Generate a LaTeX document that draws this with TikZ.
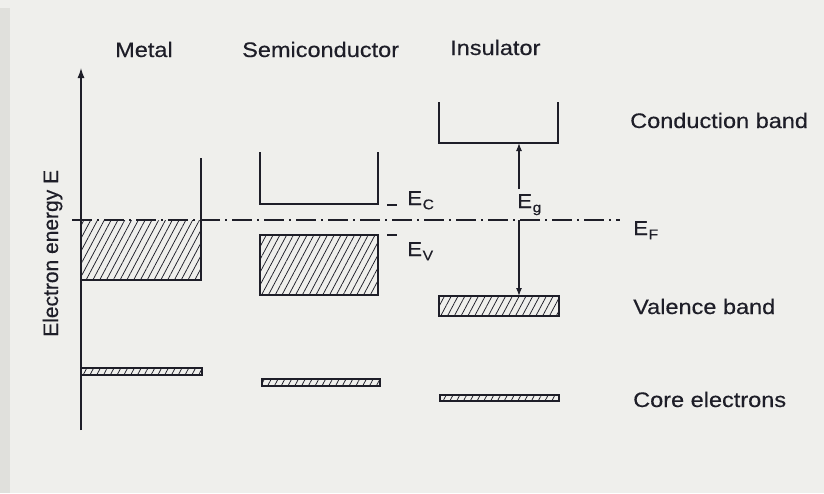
\documentclass[tikz,border=0pt]{standalone}
\usepackage{fontspec}
\setmainfont{Liberation Sans}[FakeStretch=1.12,FakeBold=0.4]
\newfontfamily\vertfont{Liberation Sans}[FakeBold=0.4]
\usetikzlibrary{arrows.meta,patterns.meta}
\definecolor{ink}{HTML}{1E1E28}
\definecolor{paper}{HTML}{EFEFEC}
\definecolor{edge}{HTML}{E0E0DC}
\newcommand\Eidx[1]{E\kern0.5pt\raisebox{-0.4ex}{\fontsize{14}{14}\selectfont #1}}
\begin{document}
\begin{tikzpicture}[x=1pt,y=-1pt,
  band/.style={draw=ink,line width=1.4pt},
  hatch/.style={pattern={Lines[angle=62,distance=6pt,line width=0.75pt]},pattern color=ink},
  lbl/.style={anchor=base west,inner sep=0pt,text=ink,font=\fontsize{21}{24}\selectfont},
  elbl/.style={anchor=base west,inner sep=0pt,text=ink,font=\fontsize{20}{24}\selectfont},
  axisline/.style={draw=ink,line width=1.3pt,-{Latex[length=10pt,width=7pt]}},
  gaparrow/.style={draw=ink,line width=1.2pt,-{Latex[length=8pt,width=6pt]}},
  fermi/.style={draw=ink,line width=1.3pt,dash pattern=on 20pt off 5pt on 2pt off 5pt}]
\useasboundingbox (0,0) rectangle (824,493);
\fill[paper] (0,0) rectangle (824,493);
\fill[edge] (0,8) rectangle (10,493);
% coordinates
\coordinate (axb) at (81,430);
\coordinate (axt) at (81,68);
\coordinate (fl) at (72,220);
\coordinate (fr) at (620,220);
% Fermi level
\draw[fermi] (fl) -- (fr);
% axis
\draw[axisline] (axb) -- (axt);
\node[anchor=base west,inner sep=0pt,text=ink,rotate=90,font=\vertfont\fontsize{21}{24}\selectfont] (elab) at (58,337) {Electron energy E};
% titles
\node[lbl] (metal) at (115,57) {Metal};
\node[lbl] (semi) at (242,57) {Semiconductor};
\node[lbl] (insu) at (450,55) {Insulator};
% Metal
\fill[hatch] (81,220) rectangle (201,280);
\draw[band] (201,158) -- (201,280) -- (81,280);
\draw[band,hatch] (81,368) rectangle (202,375);
% Semiconductor
\draw[band] (260,152) -- (260,204) -- (378,204) -- (378,152);
\draw[band,hatch] (260,235) rectangle (378,295);
\draw[band,hatch] (262,379) rectangle (380,386);
\coordinate (ecl) at (387,205); \coordinate (ecr) at (397,205);
\coordinate (evl) at (387,235); \coordinate (evr) at (397,235);
\draw[band] (ecl) -- (ecr);
\draw[band] (evl) -- (evr);
\node[elbl] (ec) at (407,205) {\Eidx{C}};
\node[elbl] (ev) at (407,256) {\Eidx{V}};
% Insulator
\draw[band] (439,102) -- (439,143) -- (558,143) -- (558,102);
\draw[band,hatch] (439,296) rectangle (559,316);
\draw[band,hatch] (440,395) rectangle (559,401);
\coordinate (icb) at (519,143);
\coordinate (ivt) at (519,296);
\coordinate (ief) at (519,220);
\node[elbl] (eg) at (517,208) {\Eidx{g}};
\draw[gaparrow] (519,189) -- (icb);
\draw[gaparrow] (ief) -- (ivt);
\node[elbl] (ef) at (633,235) {\Eidx{F}};
% right labels
\node[lbl] (cb) at (630,128) {Conduction band};
\node[lbl] (vb) at (633,314) {Valence band};
\node[lbl] (ce) at (633,407) {Core electrons};
\end{tikzpicture}
\end{document}
